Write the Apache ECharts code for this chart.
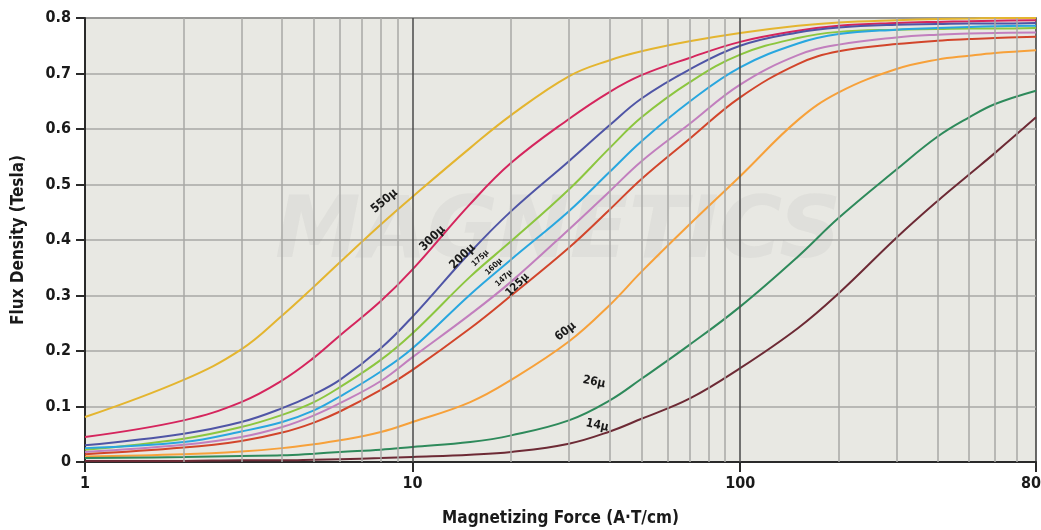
<!DOCTYPE html>
<html>
<head>
<meta charset="utf-8">
<script src="https://cdn.jsdelivr.net/npm/echarts@6/dist/echarts.min.js"></script>
<style>
html,body{margin:0;padding:0;background:#fff;}
#c{width:1041px;height:530px;}
</style>
</head>
<body>
<div id="c"></div>
<script>
// Magnetizing force H (A·T/cm) sample points
const H = [1,2,3,4,5,6,8,10,15,20,30,40,50,70,100,150,200,300,400,500,600,800];
// Flux density (Tesla) per permeability curve
const mu550 = [0.081,0.148,0.203,0.264,0.316,0.36,0.428,0.478,0.566,0.625,0.695,0.724,0.740,0.758,0.773,0.786,0.792,0.796,0.798,0.799,0.8,0.8];
const mu300 = [0.045,0.075,0.108,0.147,0.188,0.228,0.29,0.347,0.465,0.539,0.618,0.667,0.697,0.728,0.757,0.777,0.786,0.791,0.793,0.794,0.795,0.796];
const mu200 = [0.030,0.051,0.072,0.097,0.122,0.148,0.205,0.262,0.378,0.452,0.542,0.607,0.655,0.707,0.75,0.774,0.783,0.788,0.789,0.79,0.79,0.791];
const mu175 = [0.022,0.042,0.063,0.085,0.108,0.135,0.184,0.232,0.334,0.398,0.491,0.566,0.621,0.684,0.734,0.764,0.775,0.779,0.78,0.781,0.781,0.782];
const mu160 = [0.025,0.036,0.055,0.072,0.093,0.118,0.163,0.205,0.302,0.365,0.452,0.523,0.578,0.649,0.711,0.754,0.771,0.779,0.782,0.784,0.785,0.786];
const mu147 = [0.018,0.031,0.045,0.063,0.084,0.106,0.146,0.189,0.266,0.325,0.419,0.488,0.542,0.609,0.68,0.733,0.752,0.765,0.77,0.772,0.773,0.774];
const mu125 = [0.014,0.026,0.038,0.053,0.071,0.091,0.13,0.166,0.241,0.3,0.386,0.455,0.51,0.582,0.657,0.717,0.74,0.753,0.759,0.762,0.764,0.766];
const mu60  = [0.010,0.014,0.019,0.025,0.032,0.039,0.054,0.072,0.108,0.148,0.217,0.283,0.343,0.428,0.515,0.616,0.666,0.708,0.725,0.732,0.737,0.742];
const mu26  = [0.007,0.009,0.011,0.012,0.015,0.018,0.022,0.027,0.036,0.048,0.075,0.111,0.15,0.211,0.28,0.37,0.44,0.527,0.586,0.621,0.645,0.669];
const mu14  = [0.002,0.002,0.003,0.003,0.004,0.005,0.007,0.009,0.013,0.018,0.033,0.055,0.078,0.114,0.169,0.241,0.304,0.404,0.47,0.518,0.557,0.621];

const curveNames = ['550μ','300μ','200μ','175μ','160μ','147μ','125μ','60μ','26μ','14μ'];
const curveValues = [mu550,mu300,mu200,mu175,mu160,mu147,mu125,mu60,mu26,mu14];

// Minor and major vertical grid positions (x values)
const minorGridH = [2,3,4,5,6,7,8,9,20,30,40,50,60,70,80,90,200,300,400,500,600,700];
const majorGridH = [10,100];

// Text labels along curves (anchor in data coordinates)
const labelAnchorH = [8.2, 11.5, 14.2, 16.1, 17.7, 19.0, 20.9, 29.3, 35.8, 36.6];
const labelAnchorB = [0.47, 0.403, 0.37, 0.367, 0.352, 0.331, 0.319, 0.235, 0.144, 0.066];

// ---- styling ----
const colors = ['#e4b52f','#d5255d','#4f55a6','#8cc63f','#29a7df','#c27fbe','#d2452b','#f7a13a','#2e8a5b','#6d2a35'];
const labelRotate = [40, 44, 44, 44, 44, 44, 44, 38, -12, -12];
const labelSize = [12, 12, 12, 8, 8, 8, 11, 12, 12, 12];
const FONT = "'Liberation Sans Narrow','DejaVu Sans Condensed',sans-serif";

const series = curveNames.map((name, i) => ({
  name: name,
  type: 'line',
  smooth: 0.4,
  showSymbol: false,
  symbol: 'none',
  z: 3,
  lineStyle: {color: colors[i], width: 2},
  itemStyle: {color: colors[i]},
  data: H.map((h, j) => [h, curveValues[i][j]]),
  markPoint: {
    silent: true,
    symbol: 'circle',
    symbolSize: 1,
    itemStyle: {color: 'rgba(0,0,0,0)'},
    label: {
      show: true,
      position: 'inside',
      formatter: name,
      rotate: labelRotate[i],
      color: '#1a1a1a',
      fontFamily: FONT,
      fontWeight: 'bold',
      fontSize: labelSize[i]
    },
    data: [{coord: [labelAnchorH[i], labelAnchorB[i]]}]
  }
}));

// background grid lines series
series.unshift({
  type: 'line',
  name: 'grid',
  z: 1,
  silent: true,
  showSymbol: false,
  symbol: 'none',
  lineStyle: {opacity: 0},
  data: [[1, 0]],
  markLine: {
    silent: true,
    symbol: ['none','none'],
    label: {show: false},
    animation: false,
    data: minorGridH.map(v => ({xAxis: v, lineStyle: {color: '#a9a9a6', width: 1.5, type: 'solid'}}))
      .concat(majorGridH.map(v => ({xAxis: v, lineStyle: {color: '#4a4a4a', width: 1.5, type: 'solid'}})))
  }
});

const chart = echarts.init(document.getElementById('c'));
chart.setOption({
  animation: false,
  backgroundColor: '#ffffff',
  textStyle: {fontFamily: FONT},
  grid: {
    left: 85, top: 18, width: 951, height: 444,
    containLabel: false,
    outerBoundsMode: 'none',
    show: true,
    backgroundColor: '#e8e8e3',
    borderColor: '#3a3a3a',
    borderWidth: 1.5
  },
  graphic: [{
    type: 'text',
    z: 1,
    silent: true,
    left: 275,
    top: 192,
    style: {
      text: 'MAGNETICS',
      font: "italic bold 86px 'DejaVu Sans'",
      fill: 'rgba(120,120,110,0.07)'
    }
  }],
  xAxis: {
    type: 'log',
    logBase: 10,
    min: 1,
    max: 800,
    name: 'Magnetizing Force (A·T/cm)',
    nameLocation: 'middle',
    nameGap: 48,
    nameTextStyle: {color: '#1a1a1a', fontSize: 17, fontFamily: FONT, fontWeight: 'bold'},
    axisLine: {show: true, lineStyle: {color: '#2a2a2a', width: 2}},
    axisTick: {show: true, length: 10, lineStyle: {color: '#2a2a2a', width: 2}},
    axisLabel: {color: '#1a1a1a', fontSize: 16, fontFamily: FONT, fontWeight: 'bold', margin: 14},
    splitLine: {show: false},
    minorTick: {show: false},
    minorSplitLine: {show: false}
  },
  yAxis: {
    type: 'value',
    min: 0,
    max: 0.8,
    interval: 0.1,
    name: 'Flux Density (Tesla)',
    nameLocation: 'middle',
    nameGap: 58,
    nameTextStyle: {color: '#1a1a1a', fontSize: 17, fontFamily: FONT, fontWeight: 'bold'},
    axisLine: {show: true, lineStyle: {color: '#2a2a2a', width: 2}},
    axisTick: {show: true, length: 9, lineStyle: {color: '#2a2a2a', width: 2}},
    axisLabel: {color: '#1a1a1a', fontSize: 16, fontFamily: FONT, fontWeight: 'bold', margin: 14},
    splitLine: {show: true, lineStyle: {color: '#a9a9a6', width: 1.5}}
  },
  series: series
});
</script>
</body>
</html>
